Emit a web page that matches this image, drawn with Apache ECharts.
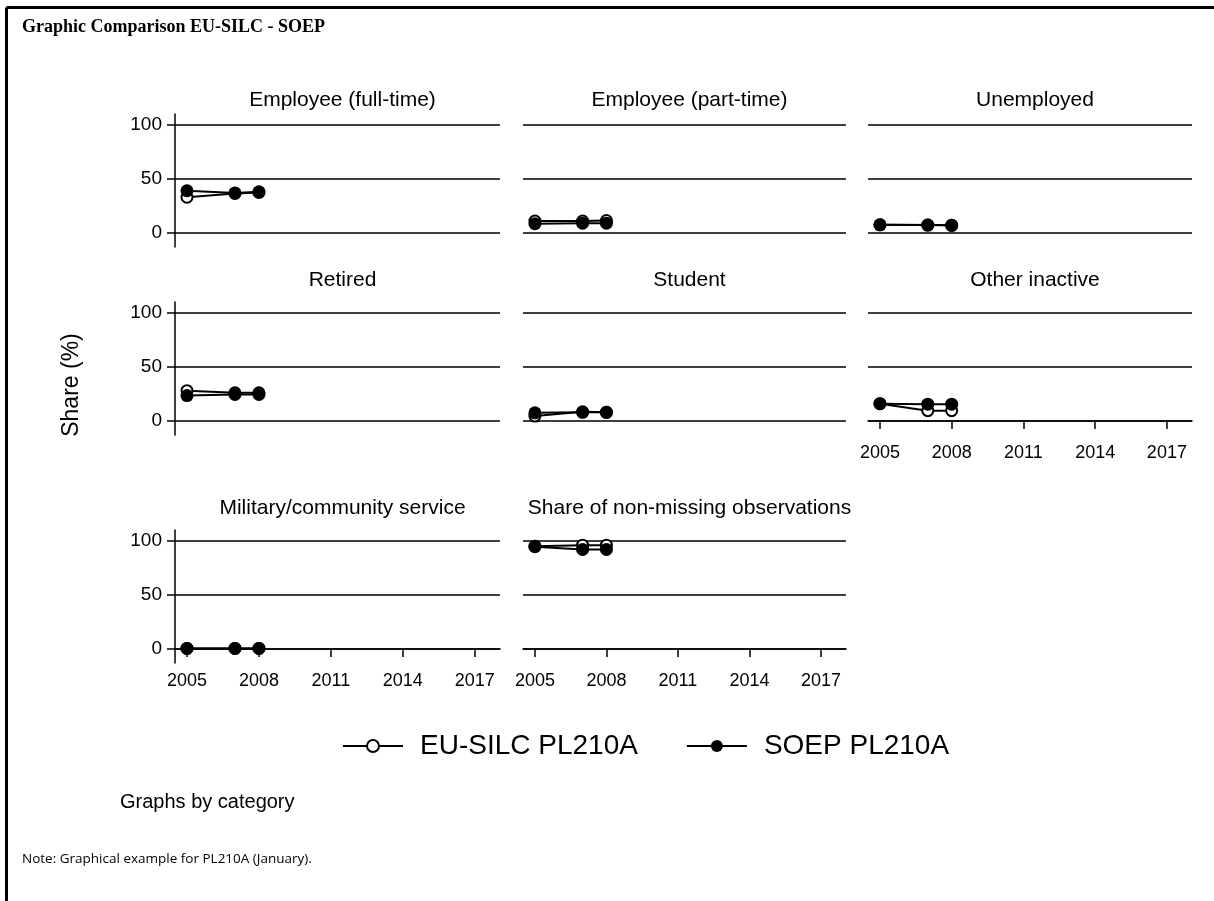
<!DOCTYPE html>
<html><head><meta charset="utf-8">
<script src="https://cdn.jsdelivr.net/npm/echarts@6/dist/echarts.min.js"></script>
<style>html,body{margin:0;padding:0;background:#fff}#c{width:1214px;height:901px}</style>
</head><body><div id="c"></div>
<script>
const years = [2005, 2007, 2008];
const categories = ["Employee (full-time)", "Employee (part-time)", "Unemployed", "Retired", "Student", "Other inactive", "Military/community service", "Share of non-missing observations"];
const euSilc = [[33, 36.5, 37.5], [11, 11, 11.5], [7.5, 7.3, 7], [28, 26, 26], [4.5, 8.5, 8], [16, 9.5, 9.5], [0.5, 0.5, 0.5], [95, 96, 96]];
const soep = [[39, 37, 38], [8.5, 9, 9], [7.5, 7.3, 7], [23.5, 24.5, 24.5], [7.5, 8, 8], [16, 15.5, 15.5], [0.5, 0.5, 0.5], [94.5, 92, 92]];
const yTicks = [0, 50, 100];
const xTicks = [2005, 2008, 2011, 2014, 2017];
const seriesNames = ["EU-SILC PL210A", "SOEP PL210A"];

const FONT = "Liberation Sans, Arial, sans-serif";
const colLeft = [175, 523, 868], colWidth = [325, 323, 324];
const rowTop = [114, 302, 530], rowHeight = 133;
const titleTop = [85, 265, 493];
const withX = [5, 6, 7];

const grids = [], xAxes = [], yAxes = [], series = [], titles = [];
categories.forEach((cat, i) => {
  const r = Math.floor(i / 3), c = i % 3;
  grids.push({left: colLeft[c], top: rowTop[r], width: colWidth[c], height: rowHeight});
  const showX = withX.includes(i);
  xAxes.push({
    gridIndex: i, type: 'value', min: 2004.5, max: 2018.05,
    axisLine: {show: showX, lineStyle: {color: '#000', width: 1.5}},
    axisTick: {show: showX, length: 8, lineStyle: {color: '#000', width: 1.5}, customValues: xTicks},
    axisLabel: {show: showX, customValues: xTicks, formatter: v => String(v), color: '#000', fontSize: 18, fontFamily: FONT, margin: 9},
    splitLine: {show: false}
  });
  const showY = c === 0;
  yAxes.push({
    gridIndex: i, type: 'value', min: -13, max: 110,
    axisLine: {show: showY, lineStyle: {color: '#000', width: 1.5}},
    axisTick: {show: showY, length: 8, lineStyle: {color: '#000', width: 1.5}, customValues: yTicks},
    axisLabel: {show: showY, customValues: yTicks, formatter: v => String(v), color: '#000', fontSize: 19, fontFamily: FONT, margin: 13},
    splitLine: {show: true, lineStyle: {color: '#000', width: 1.5}}
  });
  titles.push({
    text: cat, left: colLeft[c] + colWidth[c] / 2, top: titleTop[r], textAlign: 'center',
    textStyle: {fontSize: 21, fontWeight: 'normal', color: '#000', fontFamily: FONT}
  });
  series.push({
    name: seriesNames[0], type: 'line', xAxisIndex: i, yAxisIndex: i,
    data: years.map((y, k) => [y, euSilc[i][k]]),
    symbol: 'emptyCircle', symbolSize: 11, z: 2,
    lineStyle: {color: '#000', width: 2}, itemStyle: {color: '#000', borderColor: '#000', borderWidth: 1.5},
    animation: false
  });
  series.push({
    name: seriesNames[1], type: 'line', xAxisIndex: i, yAxisIndex: i,
    data: years.map((y, k) => [y, soep[i][k]]),
    symbol: 'circle', symbolSize: 13, z: 3,
    lineStyle: {color: '#000', width: 2}, itemStyle: {color: '#000'},
    animation: false
  });
});

const chart = echarts.init(document.getElementById('c'), null, {renderer: 'canvas'});
chart.setOption({
  backgroundColor: '#fff',
  animation: false,
  title: titles,
  grid: grids, xAxis: xAxes, yAxis: yAxes, series: series,
  legend: {
    data: seriesNames, left: 337, top: 727, itemWidth: 60, itemHeight: 15, itemGap: 48,
    textStyle: {fontSize: 28, color: '#000', fontFamily: FONT, padding: [0, 0, 0, 12]}
  },
  graphic: [
    {type: 'line', shape: {x1: 6.5, y1: 7.5, x2: 1214, y2: 7.5}, style: {stroke: '#000', lineWidth: 3}},
    {type: 'line', shape: {x1: 6.5, y1: 7.5, x2: 6.5, y2: 901}, style: {stroke: '#000', lineWidth: 3}},
    {type: 'text', left: 22, top: 18, style: {text: 'Graphic Comparison EU-SILC - SOEP', font: 'bold 18px "Liberation Serif", "Times New Roman", serif', fill: '#000'}},
    {type: 'text', x: 72, y: 385, rotation: Math.PI / 2, style: {text: 'Share (%)', font: '23px "Liberation Sans", Arial, sans-serif', fill: '#000', align: 'center', verticalAlign: 'middle'}},
    {type: 'text', left: 120, top: 792, style: {text: 'Graphs by category', font: '20px "Liberation Sans", Arial, sans-serif', fill: '#000'}},
    {type: 'text', left: 22, top: 852, style: {text: 'Note: Graphical example for PL210A (January).', font: '13.5px "Open Sans", "Noto Sans", sans-serif', fill: '#000'}}
  ]
});
</script></body></html>
